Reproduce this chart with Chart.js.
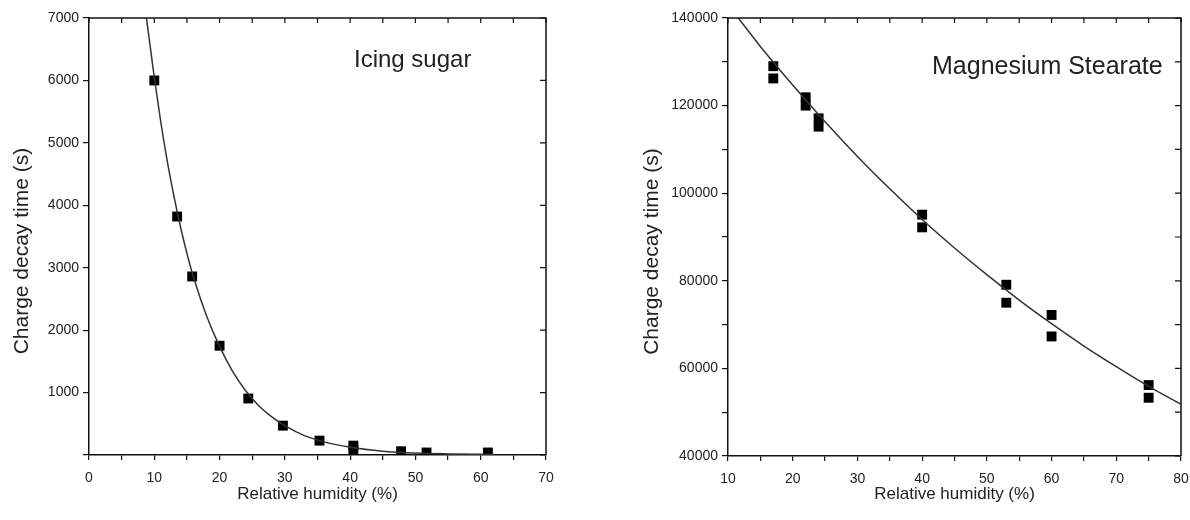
<!DOCTYPE html>
<html>
<head>
<meta charset="utf-8">
<script src="https://cdn.jsdelivr.net/npm/chart.js@4.4.1/dist/chart.umd.min.js"></script>
<style>
  body { margin: 0; background: #fff; }
  canvas { position: absolute; top: 0; }
  #chart_sugar { left: 0; }
  #chart_stearate { left: 595px; }
</style>
</head>
<body>
<canvas id="chart_sugar" width="595" height="520"></canvas>
<canvas id="chart_stearate" width="595" height="520"></canvas>
<script>
// icing sugar - measured points
var sugarRH = [10, 13.5, 15.8, 20, 24.4, 29.7, 35.3, 40.5, 40.5, 47.8, 51.7, 61.1];
var sugarTime = [6000, 3820, 2860, 1750, 905, 470, 230, 150, 90, 60, 40, 40];
// icing sugar - fitted curve
var sugarFitRH = [8.8, 10, 11, 12, 13, 14, 15, 16, 18, 20, 22, 24, 26, 28, 30, 33, 36, 40, 45, 50, 55, 62];
var sugarFitTime = [7000, 6050, 5330, 4700, 4150, 3660, 3230, 2850, 2230, 1740, 1340, 1030, 790, 610, 470, 310, 210, 125, 62, 32, 18, 8];

// magnesium stearate - measured points
var stearateRH = [17, 17, 22, 22, 24, 24, 40, 40, 53, 53, 60, 60, 75, 75];
var stearateTime = [129000, 126200, 121900, 120000, 117100, 115200, 95100, 92200, 79100, 75000, 72200, 67300, 56200, 53300];
// magnesium stearate - fitted curve
var stearateFitRH = [11.6, 15, 20, 25, 30, 35, 40, 45, 50, 55, 60, 65, 70, 75, 80];
var stearateFitTime = [140000, 133500, 124700, 116300, 108400, 101000, 94000, 87500, 81400, 75600, 70200, 65100, 60400, 55900, 51800];

var xTitle = "Relative humidity (%)";
var yTitle = "Charge decay time (s)     ";

var fontFamily = 'Arial, "Liberation Sans", sans-serif';
var ink = '#111';

function toPoints(xs, ys) {
  var arr = [];
  for (var i = 0; i < xs.length; i++) {
    arr.push({x: xs[i], y: ys[i]});
  }
  return arr;
}

// top and right axes with inward ticks, plus the sample label
var framePlugin = {
  id: 'frame',
  afterDraw: function (chart, args, opts) {
    var ctx = chart.ctx;
    var a = chart.chartArea;
    var xs = chart.scales.x, ys = chart.scales.y;
    ctx.save();
    ctx.strokeStyle = ink;
    ctx.lineWidth = 1.5;
    ctx.beginPath();
    ctx.moveTo(a.left, a.top);
    ctx.lineTo(a.right, a.top);
    ctx.lineTo(a.right, a.bottom);
    ctx.stroke();
    ctx.lineWidth = 1.2;
    ctx.beginPath();
    xs.ticks.forEach(function (t) {
      var px = xs.getPixelForValue(t.value);
      ctx.moveTo(px, a.top);
      ctx.lineTo(px, a.top + 5);
    });
    ys.ticks.forEach(function (t) {
      var py = ys.getPixelForValue(t.value);
      ctx.moveTo(a.right, py);
      ctx.lineTo(a.right - 6, py);
    });
    ctx.stroke();
    ctx.fillStyle = '#222';
    ctx.font = opts.size + 'px ' + fontFamily;
    ctx.textBaseline = 'middle';
    ctx.textAlign = 'left';
    ctx.fillText(opts.text, a.left + opts.dx, a.top + opts.dy);
    ctx.restore();
  }
};

function makeChart(id, cfg) {
  return new Chart(document.getElementById(id), {
    type: 'scatter',
    data: {
      datasets: [{
        label: 'fit',
        data: toPoints(cfg.fitX, cfg.fitY),
        showLine: true,
        borderColor: '#333',
        borderWidth: 1.5,
        pointRadius: 0,
        cubicInterpolationMode: 'monotone'
      }, {
        label: 'measured',
        data: toPoints(cfg.ptX, cfg.ptY),
        pointStyle: 'rect',
        pointRadius: 7,
        backgroundColor: '#000',
        borderColor: '#000',
        borderWidth: 0
      }]
    },
    options: {
      responsive: false,
      animation: false,
      layout: { padding: cfg.padding },
      plugins: {
        legend: { display: false },
        tooltip: { enabled: false },
        frame: cfg.label
      },
      scales: {
        x: {
          type: 'linear',
          min: cfg.xMin, max: cfg.xMax,
          afterFit: function (s) {
            s.height = cfg.xHeight;
            // let the layout padding alone decide where the plot ends
            s.paddingLeft = 0;
            s.paddingRight = 0;
          },
          border: { display: true, color: ink, width: 1.5 },
          grid: { drawOnChartArea: false, drawTicks: true, tickLength: 5, color: ink, lineWidth: 1.2 },
          ticks: {
            stepSize: 5,
            padding: 10,
            color: '#222',
            font: { family: fontFamily, size: 14 },
            callback: function (v) { return v % 10 === 0 ? String(v) : ''; }
          },
          title: {
            display: true,
            text: xTitle,
            color: '#222',
            font: { family: fontFamily, size: 17 },
            padding: { top: 0, bottom: 15 }
          }
        },
        y: {
          type: 'linear',
          min: cfg.yMin, max: cfg.yMax,
          afterFit: function (s) {
            s.width = cfg.yWidth;
            s.paddingTop = 0;
            s.paddingBottom = 0;
          },
          border: { display: true, color: ink, width: 1.5 },
          grid: { drawOnChartArea: false, drawTicks: true, tickLength: 6, color: ink, lineWidth: 1.2 },
          ticks: {
            stepSize: cfg.yStep,
            padding: 4,
            color: '#222',
            font: { family: fontFamily, size: 14 },
            callback: cfg.yLabel
          },
          title: {
            display: true,
            text: yTitle,
            color: '#222',
            font: { family: fontFamily, size: 21 },
            padding: { top: cfg.yTitlePad, bottom: 0 }
          }
        }
      }
    },
    plugins: [framePlugin]
  });
}

makeChart('chart_sugar', {
  ptX: sugarRH, ptY: sugarTime, fitX: sugarFitRH, fitY: sugarFitTime,
  xMin: 0, xMax: 70, yMin: 0, yMax: 7000, yStep: 1000,
  yLabel: function (v) { return v === 0 ? '' : String(v); },
  padding: { top: 18, right: 49, left: 0, bottom: 0 },
  xHeight: 65, yWidth: 89, yTitlePad: 10,
  label: { text: 'Icing sugar', size: 24, dx: 265, dy: 42 }
});

makeChart('chart_stearate', {
  ptX: stearateRH, ptY: stearateTime, fitX: stearateFitRH, fitY: stearateFitTime,
  xMin: 10, xMax: 80, yMin: 40000, yMax: 140000, yStep: 10000,
  yLabel: function (v) { return v % 20000 === 0 ? String(v) : ''; },
  padding: { top: 18, right: 9, left: 0, bottom: 0 },
  xHeight: 64, yWidth: 133, yTitlePad: 45,
  label: { text: 'Magnesium Stearate', size: 25, dx: 204, dy: 49 }
});
</script>
</body>
</html>
